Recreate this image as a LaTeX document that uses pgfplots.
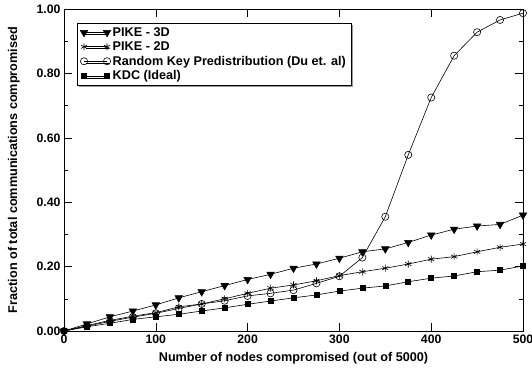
\documentclass[border=0pt]{standalone}
\usepackage{pgfplots}
\pgfplotsset{compat=1.18}
\usepackage{fontspec}
\setmainfont{Liberation Sans}
\usetikzlibrary{shadows}
\begin{document}
\begin{tikzpicture}
\begin{axis}[
  scale only axis, width=459bp, height=322bp,
  xmin=0, xmax=500, ymin=0, ymax=1,
  xtick={0,100,...,500}, ytick={0,0.2,...,1.0},
  minor ytick={0.1,0.3,0.5,0.7,0.9},
  tick align=inside, major tick length=8bp, minor tick length=4bp,
  tick style={black, line width=0.6bp},
  axis line style={line width=0.9bp},
  /pgf/number format/assume math mode=true,
  ticklabel style={font=\bfseries\fontsize{12.3}{14}\selectfont},
  yticklabel style={/pgf/number format/.cd, fixed, fixed zerofill, precision=2},
  xticklabel style={/pgf/number format/.cd, fixed, precision=0},
  scaled y ticks=false,
  xlabel={\bfseries Number of nodes compromised (out of 5000)},
  ylabel={\bfseries Fraction of total communications compromised},
  label style={font=\bfseries\fontsize{12.7}{14}\selectfont},
  xlabel style={at={(axis description cs:0.5,-0.0839)}, anchor=center},
  ylabel style={at={(axis description cs:-0.109,0.5)}, anchor=center},
  legend style={at={(rel axis cs:0.0283,0.9565)}, anchor=north west,
    font=\bfseries\fontsize{12.7}{14}\selectfont, draw=black, line width=0.6bp,
    fill=white, inner xsep=3bp, inner ysep=2bp, row sep=0bp,
    drop shadow={shadow xshift=2bp, shadow yshift=-2bp, fill=gray!80, opacity=1},
    cells={anchor=west}},
  legend image code/.code={\draw[#1] plot coordinates {(0bp,0bp) (23bp,0bp)};},
]
\addplot[black, line width=0.6bp, mark=triangle*, mark size=4.3bp, mark options={solid, rotate=180, fill=black}] coordinates {
(0,0) (25,0.022) (50,0.044) (75,0.062) (100,0.081) (125,0.103) (150,0.122) (175,0.141) (200,0.160) (225,0.176) (250,0.195) (275,0.208) (300,0.226) (325,0.246) (350,0.255) (375,0.275) (400,0.298) (425,0.316) (450,0.326) (475,0.331) (500,0.360)};
\addlegendentry{PIKE - 3D}
\addplot[black, line width=0.6bp, mark=asterisk, mark size=3.5bp, mark options={solid}] coordinates {
(0,0) (25,0.017) (50,0.033) (75,0.046) (100,0.057) (125,0.075) (150,0.084) (175,0.100) (200,0.117) (225,0.133) (250,0.143) (275,0.156) (300,0.172) (325,0.184) (350,0.195) (375,0.208) (400,0.223) (425,0.231) (450,0.246) (475,0.260) (500,0.270)};
\addlegendentry{PIKE - 2D}
\addplot[black, line width=0.6bp, mark=o, mark size=3.6bp, mark options={solid, fill=none}] coordinates {
(0,0) (25,0.015) (50,0.030) (75,0.043) (100,0.055) (125,0.070) (150,0.084) (175,0.094) (200,0.109) (225,0.117) (250,0.127) (275,0.148) (300,0.170) (325,0.228) (350,0.355) (375,0.547) (400,0.725) (425,0.855) (450,0.928) (475,0.966) (500,0.987)};
\addlegendentry{Random Key Predistribution (Du et. al)}
\addplot[black, line width=0.6bp, mark=square*, mark size=2.5bp, mark options={solid, fill=black}] coordinates {
(0,0) (25,0.013) (50,0.024) (75,0.036) (100,0.044) (125,0.052) (150,0.062) (175,0.072) (200,0.083) (225,0.093) (250,0.103) (275,0.112) (300,0.124) (325,0.133) (350,0.140) (375,0.153) (400,0.164) (425,0.171) (450,0.184) (475,0.189) (500,0.202)};
\addlegendentry{KDC (Ideal)}
\coordinate (sw) at (rel axis cs:0,0);
\coordinate (ne) at (rel axis cs:1,1);
\end{axis}
\pgfresetboundingbox
\path[use as bounding box] ([shift={(-64bp,-37bp)}]sw) rectangle ([shift={(9bp,9bp)}]ne);
\end{tikzpicture}
\end{document}
